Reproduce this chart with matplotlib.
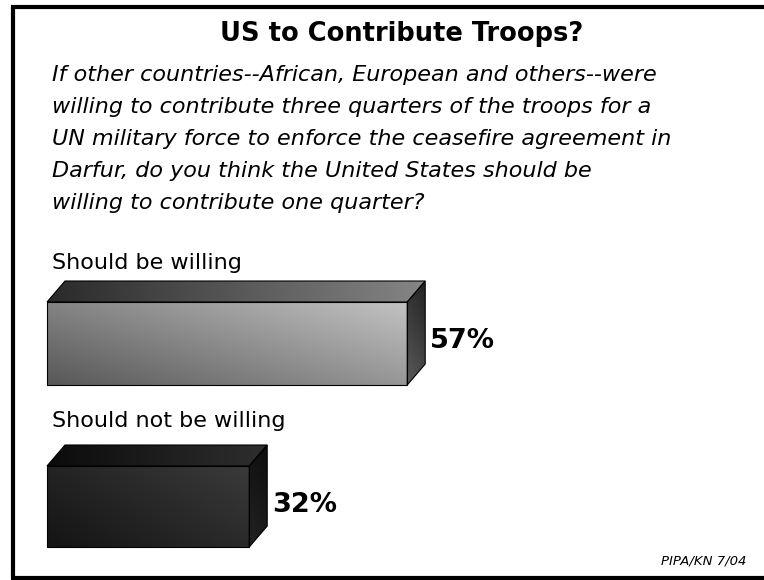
import numpy as np
import matplotlib
matplotlib.use("Agg")
from matplotlib import pyplot as plt
from matplotlib.patches import Polygon
from matplotlib.colors import LinearSegmentedColormap

title = "US to Contribute Troops?"
question = ["If other countries--African, European and others--were",
            "willing to contribute three quarters of the troops for a",
            "UN military force to enforce the ceasefire agreement in",
            "Darfur, do you think the United States should be",
            "willing to contribute one quarter?"]
labels = ["Should be willing", "Should not be willing"]
values = [57, 32]
source = "PIPA/KN 7/04"

# colours per bar: front (dark, light), top (dark, light), side (light, dark)
front_cols = [("#585858", "#c2c2c2"), ("#141414", "#3a3a3a")]
top_cols = [("#2a2a2a", "#858585"), ("#0c0c0c", "#2e2e2e")]
side_cols = [("#5a5a5a", "#222222"), ("#222222", "#0e0e0e")]

W, H = 764, 580
fig = plt.figure(figsize=(W / 100, H / 100), dpi=100)
ax = fig.add_axes([0, 0, 1, 1])
ppu = 6.32          # pixels per percent
x0 = 47             # pixel position of 0%
ax.set_xlim(-x0 / ppu, (W - x0) / ppu)
ax.set_ylim(H, 0)
ax.axis("off")


def px(x):
    # pixel column -> percent units
    return (x - x0) / ppu


# frame
ax.plot([px(12.5)] * 2, [6, 578], color="black", lw=3, solid_capstyle="butt")
ax.plot([px(11), px(W)], [6.5, 6.5], color="black", lw=3, solid_capstyle="butt")
ax.plot([px(11), px(W)], [578, 578], color="black", lw=3, solid_capstyle="butt")

ax.text(px(402), 34, title, fontsize=18.5, fontweight="bold", ha="center", va="center")
for i, line in enumerate(question):
    ax.text(px(52), 75 + 32 * i, line, fontsize=16, style="italic",
            ha="left", va="center")


def grad(c0, c1, d=(1.0, 1.0)):
    n = 64
    u, v = np.meshgrid(np.linspace(0, 1, n), np.linspace(0, 1, n))
    z = d[0] * u + d[1] * (1 - v)
    z = (z - z.min()) / (z.max() - z.min() + 1e-9)
    cmap = LinearSegmentedColormap.from_list("g", [c0, c1])
    return z, cmap


def face(pts, c0, c1, d):
    xs = [p[0] for p in pts]
    ys = [p[1] for p in pts]
    poly = Polygon(pts, closed=True, facecolor="none", edgecolor="black", lw=0.8, zorder=3)
    ax.add_patch(poly)
    z, cmap = grad(c0, c1, d)
    im = ax.imshow(z, cmap=cmap, extent=[min(xs), max(xs), max(ys), min(ys)],
                   aspect="auto", origin="upper", interpolation="bilinear", zorder=2)
    im.set_clip_path(poly)


dx = 18 / ppu
dy = 21
tops = [302, 466]
bottoms = [385, 547]
label_y = [263, 421]
for i, v in enumerate(values):
    t, b = tops[i], bottoms[i]
    ax.text(px(52), label_y[i], labels[i], fontsize=16, ha="left", va="center")
    # front
    face([(0, t), (v, t), (v, b), (0, b)], *front_cols[i], d=(1.0, 0.7))
    # top
    face([(0, t), (dx, t - dy), (v + dx, t - dy), (v, t)], *top_cols[i], d=(1.0, 0.0))
    # side
    face([(v, t), (v + dx, t - dy), (v + dx, b - dy), (v, b)], *side_cols[i], d=(0.3, 1.0))
    ax.text(v + dx + 5 / ppu, (t + b) / 2 - 2, f"{v}%", fontsize=19.5, fontweight="bold",
            ha="left", va="center")

ax.text(px(746), 561, source, fontsize=9.5, style="italic", ha="right", va="center")

fig.savefig("out.png", dpi=100)
